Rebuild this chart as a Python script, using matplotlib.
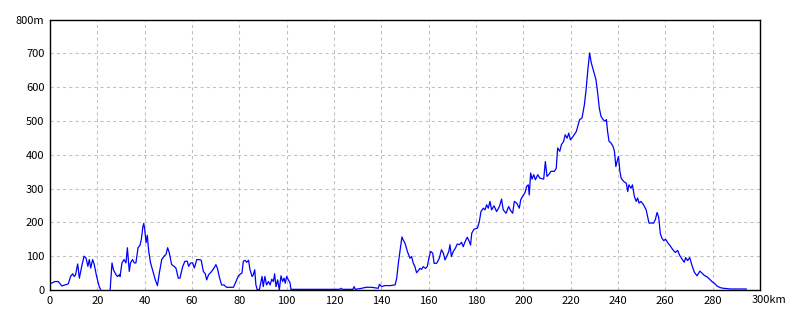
import matplotlib
matplotlib.use("Agg")
import matplotlib.pyplot as plt

distance_km = [
    0, 2, 3.5, 5, 6.3, 7.7, 8.7, 9.6, 10.2, 10.8, 11.7, 12.4, 13.4, 14.4, 15.2, 16, 16.6, 17.2, 18, 18.7,
    19.7, 20.8, 21.8, 22.2, 25.3, 25.4, 26.2, 26.8, 27.9, 28.5, 29.3, 29.6, 30.4, 31.3, 32.1, 32.7,
    33.5, 34.0, 34.9, 35.6, 36.3, 37.2, 38, 38.6, 39.2, 39.6, 40, 40.6, 41.1, 41.7, 42.5, 43.7,
    44.5, 45.4, 46.2, 47.2, 48.2, 49, 49.7, 50.4, 51.4, 52.4, 53.2, 54.2, 54.9, 56.1, 57, 58,
    58.6, 59.4, 60.3, 61, 62, 63.1, 63.9, 64.8, 65.6, 66.2, 67, 68.3, 69.3, 70.1, 70.7, 71.5,
    72.5, 73.5, 74.6, 77.5, 78.6, 79.6, 80.6, 81.1, 81.7, 82.4, 83.1, 83.9, 84.5, 85.4, 85.9,
    86.5, 87, 87.6, 88.5, 89.6, 90.1, 90.8, 91.5, 92.3, 93, 93.7, 94.4, 94.9, 95.5, 96.2, 96.9,
    97.6, 98.3, 98.9, 99.4, 100, 100.7, 101.4, 101.8, 122.5, 123, 123.5, 128, 128.5, 129,
    131.7, 133.5, 135.9, 138.7, 139.2, 140.1, 141.5, 143.7, 145.8, 146.5, 147.2, 147.9, 148.7,
    149.3, 150, 151, 152.1, 152.8, 153.5, 154.2, 154.9, 155.6, 156.3, 157, 157.7, 158.7, 159.4,
    160.1, 160.8, 161.7, 162.3, 163.4, 164.5, 165.4, 166.2, 166.9, 167.6, 168.5, 169, 169.6,
    170.4, 171.3, 172.1, 173, 173.9, 174.6, 175.4, 176.3, 177.2, 177.7, 178.2, 179.2, 180.6,
    181.4, 182.1, 183.1, 183.8, 184.5, 185.2, 185.9, 186.6, 187.6, 188.7, 189.9, 190.8, 191.5,
    192.7, 193.8, 194.6, 195.5, 196.2, 197.2, 198.3, 198.9, 199.7, 200.7, 201.4, 202.1, 202.5,
    203.1, 203.7, 204.4, 205.1, 206.1, 206.9, 208.6, 209.3, 210, 210.7, 211.7, 213.1, 213.9,
    214.5, 215.4, 216.1, 217, 217.7, 218.5, 219.2, 219.9, 221, 222.4, 223.8, 224.8, 225.8,
    226.6, 227.2, 228, 228.7, 229.7, 230.7, 231.4, 232.1, 232.8, 233.7, 234.5, 235.1, 235.6,
    236.2, 237, 237.9, 238.5, 239.1, 239.6, 240.2, 240.8, 241.3, 242.4, 243.5, 244.1, 244.6,
    245.5, 246.1, 246.9, 247.7, 248.3, 248.9, 249.7, 250.8, 251.9, 253.1, 254.4, 255.1, 255.8,
    256.5, 257.2, 257.9, 258.6, 259.3, 260.1, 261, 262.1, 263.2, 264.2, 265.2, 266.1, 267, 268,
    268.6, 269.4, 270.3, 271.3, 272.3, 273.4, 274.6, 275.5, 276.5, 277.6, 278.7, 279.7, 280.7,
    281.8, 283.2, 284.6, 287.5, 290.3, 294.2,
]
elevation_m = [
    18, 25, 25, 12, 15, 18, 40, 48, 40, 45, 77, 35, 70, 100, 95, 70, 90, 65, 90, 75,
    40, 10, -5, -40, -40, 0, 80, 60, 45, 40, 45, 40, 80, 90, 80, 125,
    55, 80, 90, 80, 80, 125, 132, 150, 185, 197, 180, 140, 162, 115, 80, 50,
    30, 13, 50, 90, 100, 105, 125, 110, 75, 70, 65, 35, 35, 70, 85, 85,
    70, 80, 80, 65, 90, 90, 88, 55, 48, 30, 45, 55, 65, 75, 65, 40,
    15, 15, 8, 8, 25, 42, 48, 50, 85, 88, 82, 88, 60, 40, 45,
    60, 15, 0, 2, 40, 10, 40, 15, 25, 15, 32, 25, 48, 10, 30, 0,
    42, 25, 35, 20, 40, 30, 22, 2, 2, 5, 2, 2, 10, 2,
    5, 8, 8, 5, 17, 10, 13, 13, 15, 35, 80, 115, 157,
    147, 139, 114, 94, 99, 79, 69, 51, 57, 64, 61, 69, 64, 69,
    94, 114, 109, 79, 79, 94, 119, 109, 89, 99, 114, 134, 99,
    114, 124, 136, 134, 141, 128, 143, 156, 143, 133, 168, 180, 183,
    202, 232, 242, 237, 252, 242, 262, 237, 249, 232, 247, 269, 237,
    227, 247, 235, 227, 262, 257, 242, 267, 277, 288, 306, 311, 281,
    346, 328, 341, 326, 341, 331, 328, 380, 336, 341, 351, 351, 360,
    420, 410, 430, 439, 459, 449, 464, 444, 454, 469, 504, 509, 548,
    598, 647, 701, 672, 647, 622, 583, 538, 514, 504, 499, 504, 469,
    440, 435, 425, 410, 365, 380, 395, 351, 331, 321, 316, 291, 311,
    301, 311, 277, 262, 272, 257, 262, 252, 237, 198, 198, 198, 209,
    229, 215, 166, 153, 146, 150, 140, 130, 119, 111, 117, 102, 92, 82,
    96, 87, 96, 72, 52, 42, 56, 50, 43, 39, 32, 25, 20,
    12, 7, 5, 3, 3, 3,
]

x_ticks = list(range(0, 301, 20))
x_labels = [str(v) for v in range(0, 300, 20)] + [""]
y_ticks = list(range(0, 801, 100))
y_labels = [str(v) for v in range(0, 800, 100)] + ["800m"]

plt.rcParams['font.family'] = ['Noto Sans CJK JP', 'DejaVu Sans']

fig = plt.figure(figsize=(8, 3.2), dpi=100)
ax = fig.add_axes([50 / 800, 1 - 290 / 320, 710 / 800, (290 - 19.5) / 320])

ax.plot(distance_km, elevation_m, color="#0000ff", linewidth=0.9, clip_on=True)

ax.set_xlim(0, 300)
ax.set_ylim(0, 800)
ax.set_xticks(x_ticks)
ax.set_xticklabels(x_labels)
ax.set_yticks(y_ticks)
ax.set_yticklabels(y_labels)
ax.tick_params(axis="both", length=0, labelsize=8, colors="black", pad=4)
ax.annotate("300km", xy=(300, 0), xycoords=("data", "axes fraction"),
            xytext=(-8, -5), textcoords="offset pixels", ha="left", va="top",
            fontsize=8)

ax.grid(True, color="#c0c0c0", linestyle=(0, (3, 3)), linewidth=0.75)
ax.set_axisbelow(True)
for s in ax.spines.values():
    s.set_color("black")
    s.set_linewidth(1.0)

fig.savefig("out.png", dpi=100, facecolor="white")
